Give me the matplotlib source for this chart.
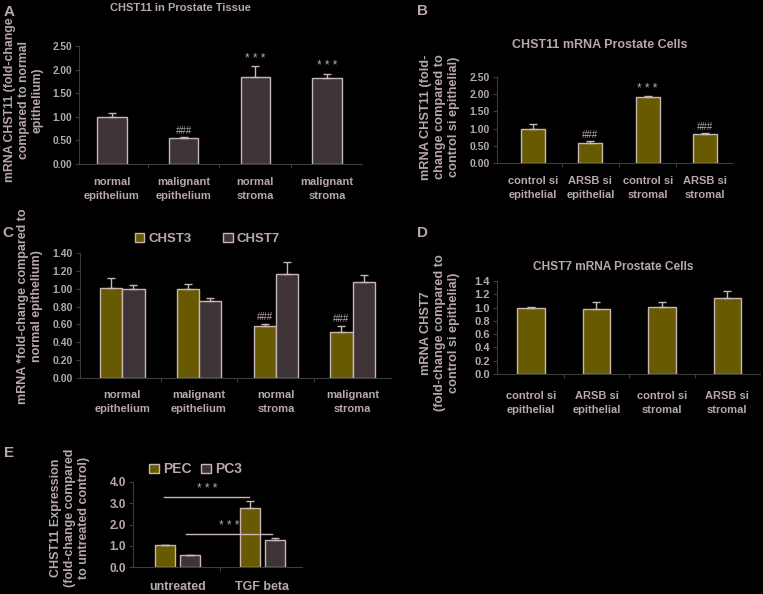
import numpy as np
import matplotlib
matplotlib.use('Agg')
import matplotlib.pyplot as plt
from matplotlib.patches import Patch

plt.rcParams['font.family'] = ['Liberation Sans', 'DejaVu Sans']
plt.rcParams['font.weight'] = 'bold'

W, H = 763, 594
TXT = '#b8a8a8'
EDGE = '#c8b6b6'
BROWN = '#3e3437'
OLIVE = '#675a00'
SPINE = '#3c3c3c'

# panel A: CHST11 in tissue
a_cats = ['normal\nepithelium', 'malignant\nepithelium', 'normal\nstroma', 'malignant\nstroma']
a_vals = [1.00, 0.55, 1.85, 1.83]
a_err = [0.07, 0.02, 0.22, 0.08]
a_marks = ['', '###', '* * *', '* * *']

# panel B: CHST11 in cells
b_cats = ['control si\nepithelial', 'ARSB si\nepithelial', 'control si\nstromal', 'ARSB si\nstromal']
b_vals = [1.00, 0.58, 1.91, 0.84]
b_err = [0.12, 0.05, 0.05, 0.03]
b_marks = ['', '###', '* * *', '###']

# panel C: CHST3 / CHST7 in tissue
c_chst3 = [1.01, 1.00, 0.58, 0.52]
c_chst3_err = [0.11, 0.05, 0.03, 0.06]
c_chst7 = [1.00, 0.86, 1.17, 1.08]
c_chst7_err = [0.04, 0.04, 0.13, 0.07]
c_marks = ['', '', '###', '###']

# panel D: CHST7 in cells
d_vals = [1.00, 0.98, 1.01, 1.15]
d_err = [0.01, 0.11, 0.08, 0.10]

# panel E: TGF beta
e_cats = ['untreated', 'TGF beta']
e_pec = [1.03, 2.80]
e_pec_err = [0.0, 0.30]
e_pc3 = [0.55, 1.28]
e_pc3_err = [0.0, 0.08]
e_sig = [(-0.15, 0.85, 3.3), (0.1, 1.12, 1.55)]


def box(l, r, t, b):
    return [l / W, 1 - b / H, (r - l) / W, (b - t) / H]


def style(ax, n, xl, ticks, fmt, fs=7, xfs=8, pad=9):
    ax.set_facecolor('black')
    for s in ['top', 'right']:
        ax.spines[s].set_visible(False)
    for s in ['left', 'bottom']:
        ax.spines[s].set_color(SPINE)
        ax.spines[s].set_linewidth(0.8)
    ax.set_xlim(*xl)
    ax.set_ylim(ticks[0], ticks[-1])
    ax.set_yticks(ticks)
    ax.set_yticklabels([fmt % t for t in ticks])
    ax.set_xticks(np.arange(n))
    ax.set_xticks(np.arange(n - 1) + 0.5, minor=True)
    ax.tick_params(axis='y', colors=SPINE, labelcolor=TXT, labelsize=fs, length=3, width=0.8, pad=2)
    ax.tick_params(axis='x', which='major', length=0, labelcolor=TXT, labelsize=xfs, pad=pad)
    ax.tick_params(axis='x', which='minor', length=3, color=SPINE, width=0.8)


def cats(ax, labels):
    ax.set_xticklabels(labels, linespacing=1.5)


def bars(ax, x, vals, err, color, width):
    ax.bar(x, vals, width, color=color, edgecolor=EDGE, linewidth=1.0, zorder=2)
    ax.errorbar(x, vals, yerr=[np.zeros(len(vals)), err], fmt='none',
                ecolor=EDGE, elinewidth=1.0, capsize=3, capthick=1.0, zorder=3)


def marks(ax, x, vals, err, labels, dy):
    for xi, v, e, m in zip(x, vals, err, labels):
        if m:
            ax.text(xi, v + e + dy, m, ha='center', va='bottom', color=TXT,
                    fontsize=8.5 if '*' in m else 7, fontweight='normal')


def ylab(px, py, s, fs=8.8):
    fig.text(px / W, 1 - py / H, s, rotation=90, ha='center', va='center',
             multialignment='center', color=TXT, fontsize=fs, linespacing=1.2)


fig = plt.figure(figsize=(W / 100, H / 100), dpi=100, facecolor='black')

# A
ax = fig.add_axes(box(79, 362, 46, 164))
style(ax, 4, (-0.46, 3.49), [0, 0.5, 1.0, 1.5, 2.0, 2.5], '%.2f', fs=7.3)
x = np.arange(4)
bars(ax, x, a_vals, a_err, BROWN, 0.41)
marks(ax, x, a_vals, a_err, a_marks, 0.03)
cats(ax, a_cats)
fig.text(180 / W, 1 - 8 / H, 'CHST11 in Prostate Tissue', ha='center', va='center', color=TXT, fontsize=8)
ylab(24, 100, 'mRNA CHST11 (fold-change\ncompared to normal\nepithelium)')

# B
ax = fig.add_axes(box(497, 733, 77, 163))
style(ax, 4, (-0.63, 3.49), [0, 0.5, 1.0, 1.5, 2.0, 2.5], '%.2f', fs=7.5)
bars(ax, x, b_vals, b_err, OLIVE, 0.42)
marks(ax, x, b_vals, b_err, b_marks, 0.03)
cats(ax, b_cats)
fig.text(600 / W, 1 - 45 / H, 'CHST11 mRNA Prostate Cells', ha='center', va='center', color=TXT, fontsize=9)
ylab(440, 117, 'mRNA CHST11 (fold-\nchange compared to\ncontrol si epithelial)', fs=9.2)

# C
ax = fig.add_axes(box(80, 391, 253, 378))
style(ax, 4, (-0.55, 3.5), [0, 0.2, 0.4, 0.6, 0.8, 1.0, 1.2, 1.4], '%.2f', fs=7.5)
bw = 0.29
bars(ax, x - bw / 2, c_chst3, c_chst3_err, OLIVE, bw)
bars(ax, x + bw / 2, c_chst7, c_chst7_err, BROWN, bw)
marks(ax, x - bw / 2, c_chst3, c_chst3_err, c_marks, 0.02)
cats(ax, a_cats)
leg = [Patch(facecolor=OLIVE, edgecolor=EDGE, label='CHST3'),
       Patch(facecolor=BROWN, edgecolor=EDGE, label='CHST7')]
ax.legend(handles=leg, loc='lower center', bbox_to_anchor=(0.41, 1.0), ncol=2, frameon=False,
          fontsize=9.5, labelcolor=TXT, handlelength=0.7, handleheight=0.7, handletextpad=0.3,
          columnspacing=2.4, borderaxespad=0.2)
ylab(30, 306, 'mRNA *fold-change compared to\nnormal epithelium)', fs=9)

# D
ax = fig.add_axes(box(497, 760, 281, 374))
style(ax, 4, (-0.52, 3.5), [0, 0.2, 0.4, 0.6, 0.8, 1.0, 1.2, 1.4], '%.1f', fs=8, pad=12)
bars(ax, x, d_vals, d_err, OLIVE, 0.42)
cats(ax, b_cats)
fig.text(613 / W, 1 - 267 / H, 'CHST7 mRNA Prostate Cells', ha='center', va='center', color=TXT, fontsize=8.6)
ylab(440, 333, 'mRNA CHST7\n(fold-change compared to\ncontrol si epithelial)', fs=9.2)

# E
ax = fig.add_axes(box(133, 302, 482, 567))
style(ax, 2, (-0.52, 1.47), [0, 1.0, 2.0, 3.0, 4.0], '%.1f', fs=8.5, xfs=9, pad=10)
xe = np.arange(2)
ew = 0.235
bars(ax, xe - 0.147, e_pec, e_pec_err, OLIVE, ew)
bars(ax, xe + 0.147, e_pc3, e_pc3_err, BROWN, ew)
for x0, x1, y in e_sig:
    ax.plot([x0, x1], [y, y], color=EDGE, lw=1.0, clip_on=False)
    ax.text((x0 + x1) / 2, y + 0.1, '* * *', ha='center', va='bottom', color=TXT, fontsize=8.5, fontweight='normal')
cats(ax, e_cats)
leg = [Patch(facecolor=OLIVE, edgecolor=EDGE, label='PEC'),
       Patch(facecolor=BROWN, edgecolor=EDGE, label='PC3')]
ax.legend(handles=leg, loc='lower center', bbox_to_anchor=(0.37, 1.0), ncol=2, frameon=False,
          fontsize=10, labelcolor=TXT, handlelength=0.7, handleheight=0.7, handletextpad=0.3,
          columnspacing=0.7, borderaxespad=0.0)
ylab(70, 518, 'CHST11 Expression\n(fold-change compared\nto untreated control)', fs=9)

# panel letters
for lab, px, py in [('A', 9, 12), ('B', 423, 11), ('C', 8, 233), ('D', 423, 233), ('E', 9, 453)]:
    fig.text(px / W, 1 - py / H, lab, ha='center', va='center', color=TXT, fontsize=11)

fig.savefig('out.png', dpi=100, facecolor='black')
